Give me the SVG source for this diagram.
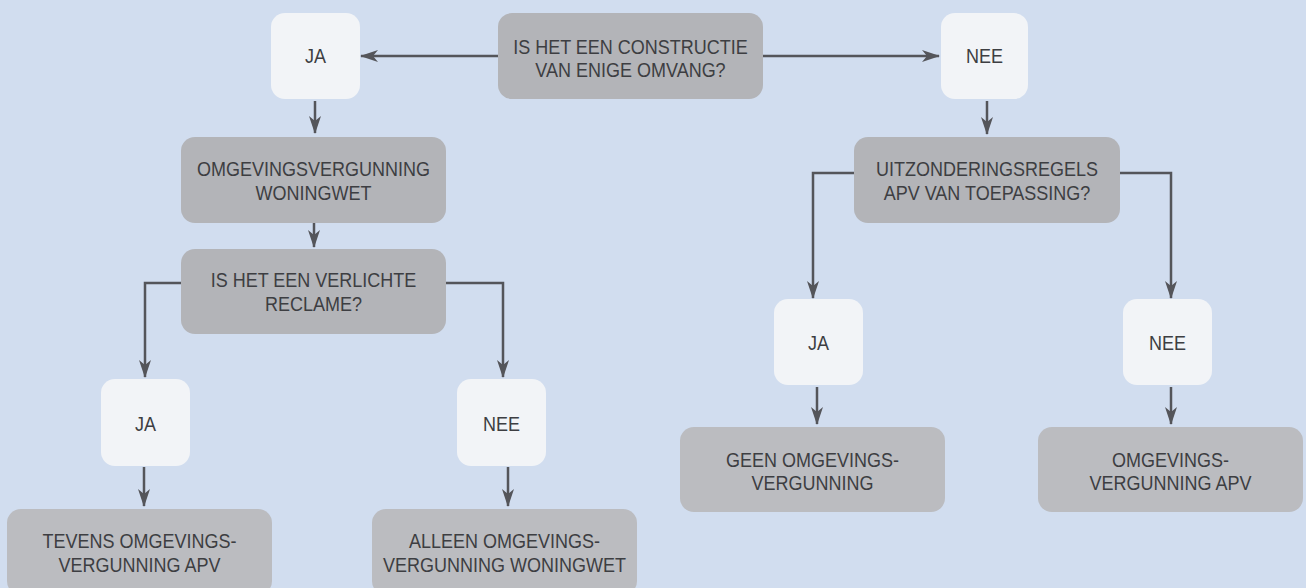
<svg xmlns="http://www.w3.org/2000/svg" width="1306" height="588" viewBox="0 0 1306 588">
<style>
.bg{fill:#d1ddef}
.q{fill:#b3b4b8}
.r{fill:#bbbcc0}
.w{fill:#f2f4f7}
text{font-family:"Liberation Sans",Arial,sans-serif;font-size:20px;fill:#3d3e42;text-anchor:middle}
.c{fill:none;stroke:#54555a;stroke-width:2.5}
</style>
<defs>
<marker id="ah" viewBox="0 0 18 12" refX="17" refY="6" markerWidth="18" markerHeight="12" markerUnits="userSpaceOnUse" orient="auto">
<path d="M0,0 L18,6 L0,12 L5,6 Z" fill="#54555a"/>
</marker>
</defs>
<rect class="bg" x="0" y="0" width="1306" height="588"/>
<g id="connectors">
<path class="c" d="M498,56 H361" marker-end="url(#ah)"/>
<path class="c" d="M763,56 H939" marker-end="url(#ah)"/>
<path class="c" d="M315,101 V133" marker-end="url(#ah)"/>
<path class="c" d="M314,223 V247" marker-end="url(#ah)"/>
<path class="c" d="M181,283 H145 V377" marker-end="url(#ah)"/>
<path class="c" d="M446,283 H503 V377" marker-end="url(#ah)"/>
<path class="c" d="M144,467 V506" marker-end="url(#ah)"/>
<path class="c" d="M508,467 V506" marker-end="url(#ah)"/>
<path class="c" d="M987,101 V134" marker-end="url(#ah)"/>
<path class="c" d="M854,173 H813 V298" marker-end="url(#ah)"/>
<path class="c" d="M1120,173 H1171 V298" marker-end="url(#ah)"/>
<path class="c" d="M817,387 V424" marker-end="url(#ah)"/>
<path class="c" d="M1171,387 V424" marker-end="url(#ah)"/>
</g>
<g id="ja1"><rect class="w" x="271" y="13" width="89" height="86" rx="14"/><text transform="matrix(0.9 0 0 1 315.5 0)" x="0" y="63">JA</text></g>
<g id="q1"><rect class="q" x="498" y="13" width="265" height="86" rx="14"/><text transform="matrix(0.9 0 0 1 630.5 0)" x="0" y="54">IS HET EEN CONSTRUCTIE</text><text transform="matrix(0.9 0 0 1 630.5 0)" x="0" y="77">VAN ENIGE OMVANG?</text></g>
<g id="nee1"><rect class="w" x="941" y="13" width="87" height="86" rx="14"/><text transform="matrix(0.9 0 0 1 984.5 0)" x="0" y="63">NEE</text></g>
<g id="omg"><rect class="q" x="181" y="137" width="265" height="86" rx="14"/><text transform="matrix(0.9 0 0 1 313.5 0)" x="0" y="176">OMGEVINGSVERGUNNING</text><text transform="matrix(0.9 0 0 1 313.5 0)" x="0" y="200">WONINGWET</text></g>
<g id="q2"><rect class="q" x="181" y="249" width="265" height="85" rx="14"/><text transform="matrix(0.9 0 0 1 313.5 0)" x="0" y="287">IS HET EEN VERLICHTE</text><text transform="matrix(0.9 0 0 1 313.5 0)" x="0" y="311">RECLAME?</text></g>
<g id="ja2"><rect class="w" x="101" y="379" width="89" height="87" rx="14"/><text transform="matrix(0.9 0 0 1 145.5 0)" x="0" y="431">JA</text></g>
<g id="nee2"><rect class="w" x="457" y="379" width="89" height="87" rx="14"/><text transform="matrix(0.9 0 0 1 501.5 0)" x="0" y="431">NEE</text></g>
<g id="tevens"><rect class="r" x="7" y="509" width="265" height="86" rx="14"/><text transform="matrix(0.9 0 0 1 139.5 0)" x="0" y="548">TEVENS OMGEVINGS-</text><text transform="matrix(0.9 0 0 1 139.5 0)" x="0" y="572">VERGUNNING APV</text></g>
<g id="alleen"><rect class="r" x="372" y="509" width="265" height="86" rx="14"/><text transform="matrix(0.9 0 0 1 504.5 0)" x="0" y="548">ALLEEN OMGEVINGS-</text><text transform="matrix(0.9 0 0 1 504.5 0)" x="0" y="572">VERGUNNING WONINGWET</text></g>
<g id="uitz"><rect class="q" x="854" y="137" width="266" height="86" rx="14"/><text transform="matrix(0.9 0 0 1 987 0)" x="0" y="176">UITZONDERINGSREGELS</text><text transform="matrix(0.9 0 0 1 987 0)" x="0" y="200">APV VAN TOEPASSING?</text></g>
<g id="ja3"><rect class="w" x="774" y="299" width="89" height="86" rx="14"/><text transform="matrix(0.9 0 0 1 818.5 0)" x="0" y="350">JA</text></g>
<g id="nee3"><rect class="w" x="1123" y="299" width="89" height="86" rx="14"/><text transform="matrix(0.9 0 0 1 1167.5 0)" x="0" y="350">NEE</text></g>
<g id="geen"><rect class="r" x="680" y="427" width="265" height="85" rx="14"/><text transform="matrix(0.9 0 0 1 812.5 0)" x="0" y="467">GEEN OMGEVINGS-</text><text transform="matrix(0.9 0 0 1 812.5 0)" x="0" y="490">VERGUNNING</text></g>
<g id="apv"><rect class="r" x="1038" y="427" width="265" height="85" rx="14"/><text transform="matrix(0.9 0 0 1 1170.5 0)" x="0" y="467">OMGEVINGS-</text><text transform="matrix(0.9 0 0 1 1170.5 0)" x="0" y="490">VERGUNNING APV</text></g>
</svg>
